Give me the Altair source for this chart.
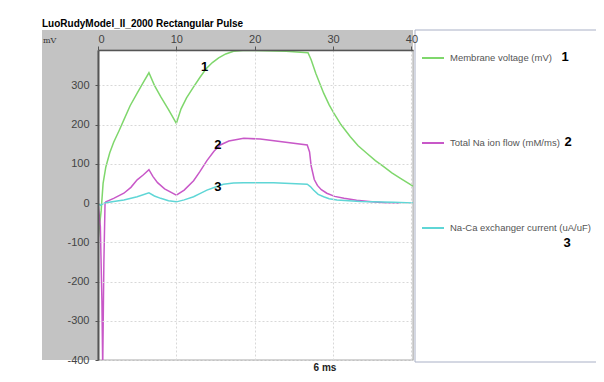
import altair as alt
import pandas as pd

# ---- data ----
series_names = ["Membrane voltage (mV)", "Total Na ion flow (mM/ms)", "Na-Ca exchanger current (uA/uF)"]
series_colors = ["#7fd76c", "#c858c8", "#5fd6d6"]

time_v = [0, 0.4, 0.65, 1.0, 1.5, 2.0, 2.7, 3.3, 4.1, 5.0, 5.8, 6.5, 7.2, 8.0, 9.0, 10.0, 10.6, 11.3,
          12.2, 13.0, 13.8, 14.6, 15.4, 16.3, 17.3, 18.5, 20, 24, 26.8, 27.2, 27.8, 28.8, 29.5, 30.1,
          31.0, 32.2, 33.2, 34.3, 35.4, 36.5, 37.5, 38.6, 40.2]
volt = [-95, -20, 50, 92, 128, 155, 185, 212, 248, 280, 308, 332, 300, 271, 238, 203, 240, 268,
        296, 320, 342, 358, 370, 380, 387, 389, 389, 387, 383, 365, 330, 280, 250, 229,
        200, 169, 146, 127, 108, 92, 77, 63, 43]

time_na = [0, 0.3, 0.5, 0.6, 0.75, 0.9, 1.0, 2.0, 3.3, 4.2, 5.0, 5.8, 6.5, 7.0, 7.6, 8.5, 10.0, 11.0,
           12.2, 13.0, 13.9, 14.8, 15.6, 16.7, 18.6, 20.7, 26.7, 27.0, 27.2, 27.6, 28.0, 28.5, 29.2,
           30.2, 31.4, 33.0, 34.6, 36.6, 38.6]
na = [0, -60, -250, -420, -150, 0, 3, 12, 25, 40, 59, 72, 85, 68, 52, 36, 20, 33,
      57, 80, 108, 132, 148, 158, 165, 163, 148, 130, 95, 60, 45, 34, 25,
      17, 12, 7, 4, 1, 0]

time_ncx = [0, 0.3, 0.6, 1.0, 2.0, 3.3, 5.0, 6.5, 7.2, 8.0, 9.0, 10.0, 11.0, 12.2, 13.0, 13.9, 15.0,
            16.0, 17.3, 18.6, 22.4, 26.7, 27.1, 27.5, 28.1, 28.8, 29.5, 30.5, 33.5, 37.7, 40.2]
ncx = [0, -6, -2, 1, 4, 8, 16, 26, 18, 12, 6, 3, 8, 16, 24, 33, 41,
       48, 51, 52, 52, 48, 42, 33, 22, 16, 11, 8, 4, 2, 0]

x_ticks = [0, 10, 20, 30, 40]
y_ticks = [-400, -300, -200, -100, 0, 100, 200, 300]
chart_labels = ["1", "2", "3"]
label_t = [13.6, 15.3, 15.3]
label_v = [347, 148, 41]

title_text = "LuoRudyModel_II_2000 Rectangular Pulse"
unit_text = "mV"
xunit_text = "6 ms"

# ---- tables ----
rows = []
for name, ts, vs in zip(series_names, [time_v, time_na, time_ncx], [volt, na, ncx]):
    for i, (t, v) in enumerate(zip(ts, vs)):
        rows.append({"series": name, "t": t, "v": v, "i": i})
df = pd.DataFrame(rows)
ann = pd.DataFrame({"lab": chart_labels, "t": label_t, "v": label_v})
one = pd.DataFrame({"d": [0]})

W, H = 315, 310
FONT = "Liberation Sans"

xscale = alt.Scale(domain=[0, 40.2], nice=False, zero=False)
yscale = alt.Scale(domain=[-400, 390], nice=False, zero=False)

hyphen_labels = "datum.value < 0 ? '-' + format(-datum.value, 'd') : format(datum.value, 'd')"

gray_bg = alt.Chart(one).mark_rect(color="#c3c3c3").encode(
    x=alt.value(-56), x2=alt.value(W), y=alt.value(-20), y2=alt.value(H))
white_bg = alt.Chart(one).mark_rect(color="white", stroke="#a8a8a8", strokeWidth=1).encode(
    x=alt.value(0), x2=alt.value(W), y=alt.value(0), y2=alt.value(H))

lines = alt.Chart(df).mark_line(strokeWidth=1.5, clip=True).encode(
    x=alt.X("t:Q", scale=xscale, title=None,
            axis=alt.Axis(orient="top", values=x_ticks, tickSize=4, labelPadding=2,
                          labelFont=FONT, labelFontSize=11, labelColor="#444",
                          domainColor="#555", domainWidth=1.5, tickColor="#555",
                          grid=True, gridColor="#d8d8d8", gridDash=[2, 2], labelFlush=True,
                          zindex=1)),
    y=alt.Y("v:Q", scale=yscale, title=None,
            axis=alt.Axis(values=y_ticks, tickSize=3, labelPadding=6, labelExpr=hyphen_labels,
                          labelFont=FONT, labelFontSize=11, labelColor="#444",
                          domainColor="#555", domainWidth=2, tickColor="#555",
                          grid=True, gridColor="#d8d8d8", gridDash=[2, 2], zindex=1)),
    color=alt.Color("series:N", scale=alt.Scale(domain=series_names, range=series_colors),
                    sort=series_names,
                    legend=alt.Legend(orient="none", legendX=323, legendY=-4, title=None,
                                      symbolType="stroke", symbolSize=484, symbolStrokeWidth=2,
                                      labelFont=FONT, labelFontSize=9.5, labelColor="#555",
                                      labelOffset=5, rowPadding=68, padding=0,
                                      labelLimit=200)),
    order="i:Q",
)

ann_text = alt.Chart(ann).mark_text(font=FONT, fontSize=13, fontWeight="bold", color="black").encode(
    x=alt.X("t:Q", scale=xscale), y=alt.Y("v:Q", scale=yscale), text="lab:N")

legend_box = alt.Chart(one).mark_rect(color="white", stroke="#a9b0c6", strokeWidth=1).encode(
    x=alt.value(317), x2=alt.value(499), y=alt.value(-20), y2=alt.value(312))

leg_nums = []
for lab, px, py in zip(chart_labels, [467, 470, 469], [7, 92, 193]):
    leg_nums.append(alt.Chart(one).mark_text(font=FONT, fontSize=13, fontWeight="bold",
                                             color="black", text=lab).encode(
        x=alt.value(px), y=alt.value(py)))

title = alt.Chart(one).mark_text(font=FONT, fontSize=10, fontWeight="bold", color="black",
                                 align="left", baseline="alphabetic", text=title_text).encode(
    x=alt.value(-56), y=alt.value(-23))
unit = alt.Chart(one).mark_text(font="DejaVu Serif", fontSize=8, color="#333",
                                align="left", baseline="middle", text=unit_text).encode(
    x=alt.value(-55), y=alt.value(-9))
xunit = alt.Chart(one).mark_text(font=FONT, fontSize=10, fontWeight="bold", color="#222",
                                 align="center", baseline="middle", text=xunit_text).encode(
    x=alt.value(227), y=alt.value(318))

chart = alt.layer(gray_bg, white_bg, legend_box, lines, ann_text, *leg_nums, title, unit, xunit).properties(
    width=W, height=H,
    padding={"left": 90, "top": 42, "right": 183, "bottom": 14},
    autosize=alt.AutoSizeParams(type="none"),
).configure_view(stroke=None).configure(background="white")

chart.save("out.html", embed_options={"renderer": "svg", "actions": False})
